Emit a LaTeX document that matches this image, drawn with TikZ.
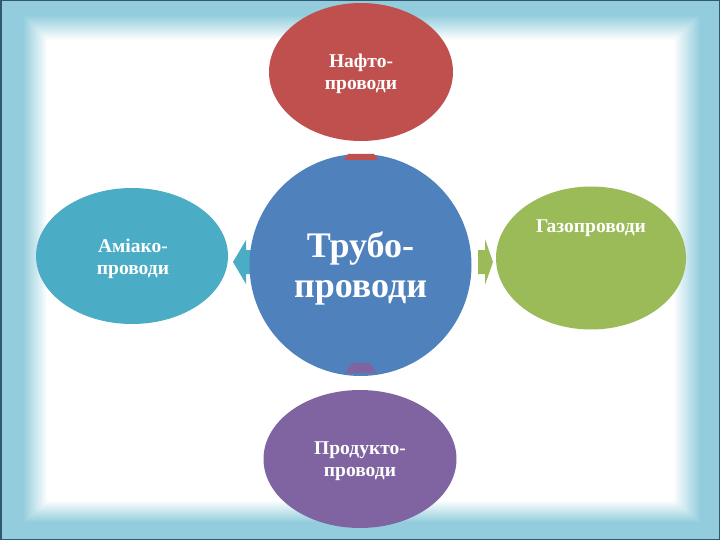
\documentclass[tikz,border=0pt]{standalone}
\usepackage{fontspec}
\setmainfont{Liberation Serif}
\usetikzlibrary{shapes.geometric}
\definecolor{nafta}{HTML}{C0504D}
\definecolor{truba}{HTML}{4F81BD}
\definecolor{gaz}{HTML}{9BBB59}
\definecolor{produkt}{HTML}{8064A2}
\definecolor{amiak}{HTML}{4BACC6}
\definecolor{ramka}{HTML}{93CDDD}
\definecolor{kant}{HTML}{31596E}
\tikzset{
  pipe/.style={ellipse,inner sep=0pt,text=white,align=center,
    font=\fontsize{19.5}{22}\selectfont\bfseries},
}
\begin{document}
\begin{tikzpicture}[x=1pt,y=-1pt]
\useasboundingbox (0,0) rectangle (720,540);
% frame
\fill[ramka] (0,0) rectangle (720,540);
\fill[white] (47,40) rectangle (673,500);
\shade[top color=ramka,bottom color=white]
  (23,15) -- (700,15) -- (673,40) -- (47,40) -- cycle;
\shade[top color=white,bottom color=ramka]
  (47,500) -- (673,500) -- (700,522) -- (23,522) -- cycle;
\shade[left color=ramka,right color=white]
  (23,15) -- (47,40) -- (47,500) -- (23,522) -- cycle;
\shade[left color=white,right color=ramka]
  (700,15) -- (700,522) -- (673,500) -- (673,40) -- cycle;
\draw[kant,line width=1.5pt] (0.75,0.75) rectangle (719.25,539.25);
% side arrows
\fill[amiak]
  (233,262) -- (246,240) -- (246,250) -- (262,250)
  -- (262,274) -- (246,274) -- (246,284) -- cycle;
\fill[gaz]
  (478,250) -- (485,250) -- (485,239) -- (493,262)
  -- (485,285) -- (485,274) -- (478,274) -- cycle;
% ellipses
\node (naft)[pipe,fill=nafta,minimum width=184pt,minimum height=138pt]
  at (361,72) {};
\node (nafttext)[pipe] at (361,74) {Нафто-\\проводи};
\node (amiak)[pipe,fill=amiak,minimum width=192pt,minimum height=136pt]
  at (132,256) {};
\node (amiaktext)[pipe] at (133,259) {Аміако-\\проводи};
\node (gaz)[pipe,fill=gaz,minimum width=190pt,minimum height=143pt]
  at (591,258) {};
\node (gaztext)[pipe] at (591,228) {Газопроводи};
\node (prod)[pipe,fill=produkt,minimum width=193pt,minimum height=138pt]
  at (360,459) {};
\node (prodtext)[pipe] at (360,461) {Продукто-\\проводи};
\node (hub)[circle,fill=truba,minimum size=222pt,inner sep=0pt]
  at (360.5,265) {};
\node (hubtext)[text=white,align=center,inner sep=0pt,
  font=\fontsize{36}{40}\selectfont\bfseries]
  at (360.5,268) {Трубо-\\проводи};
% arrow ends
\fill[nafta] (348,154) -- (374,154) -- (378,160) -- (344,160) -- cycle;
\fill[produkt] (352,363) -- (370,363) -- (377,373) -- (345,373) -- cycle;
\end{tikzpicture}
\end{document}
